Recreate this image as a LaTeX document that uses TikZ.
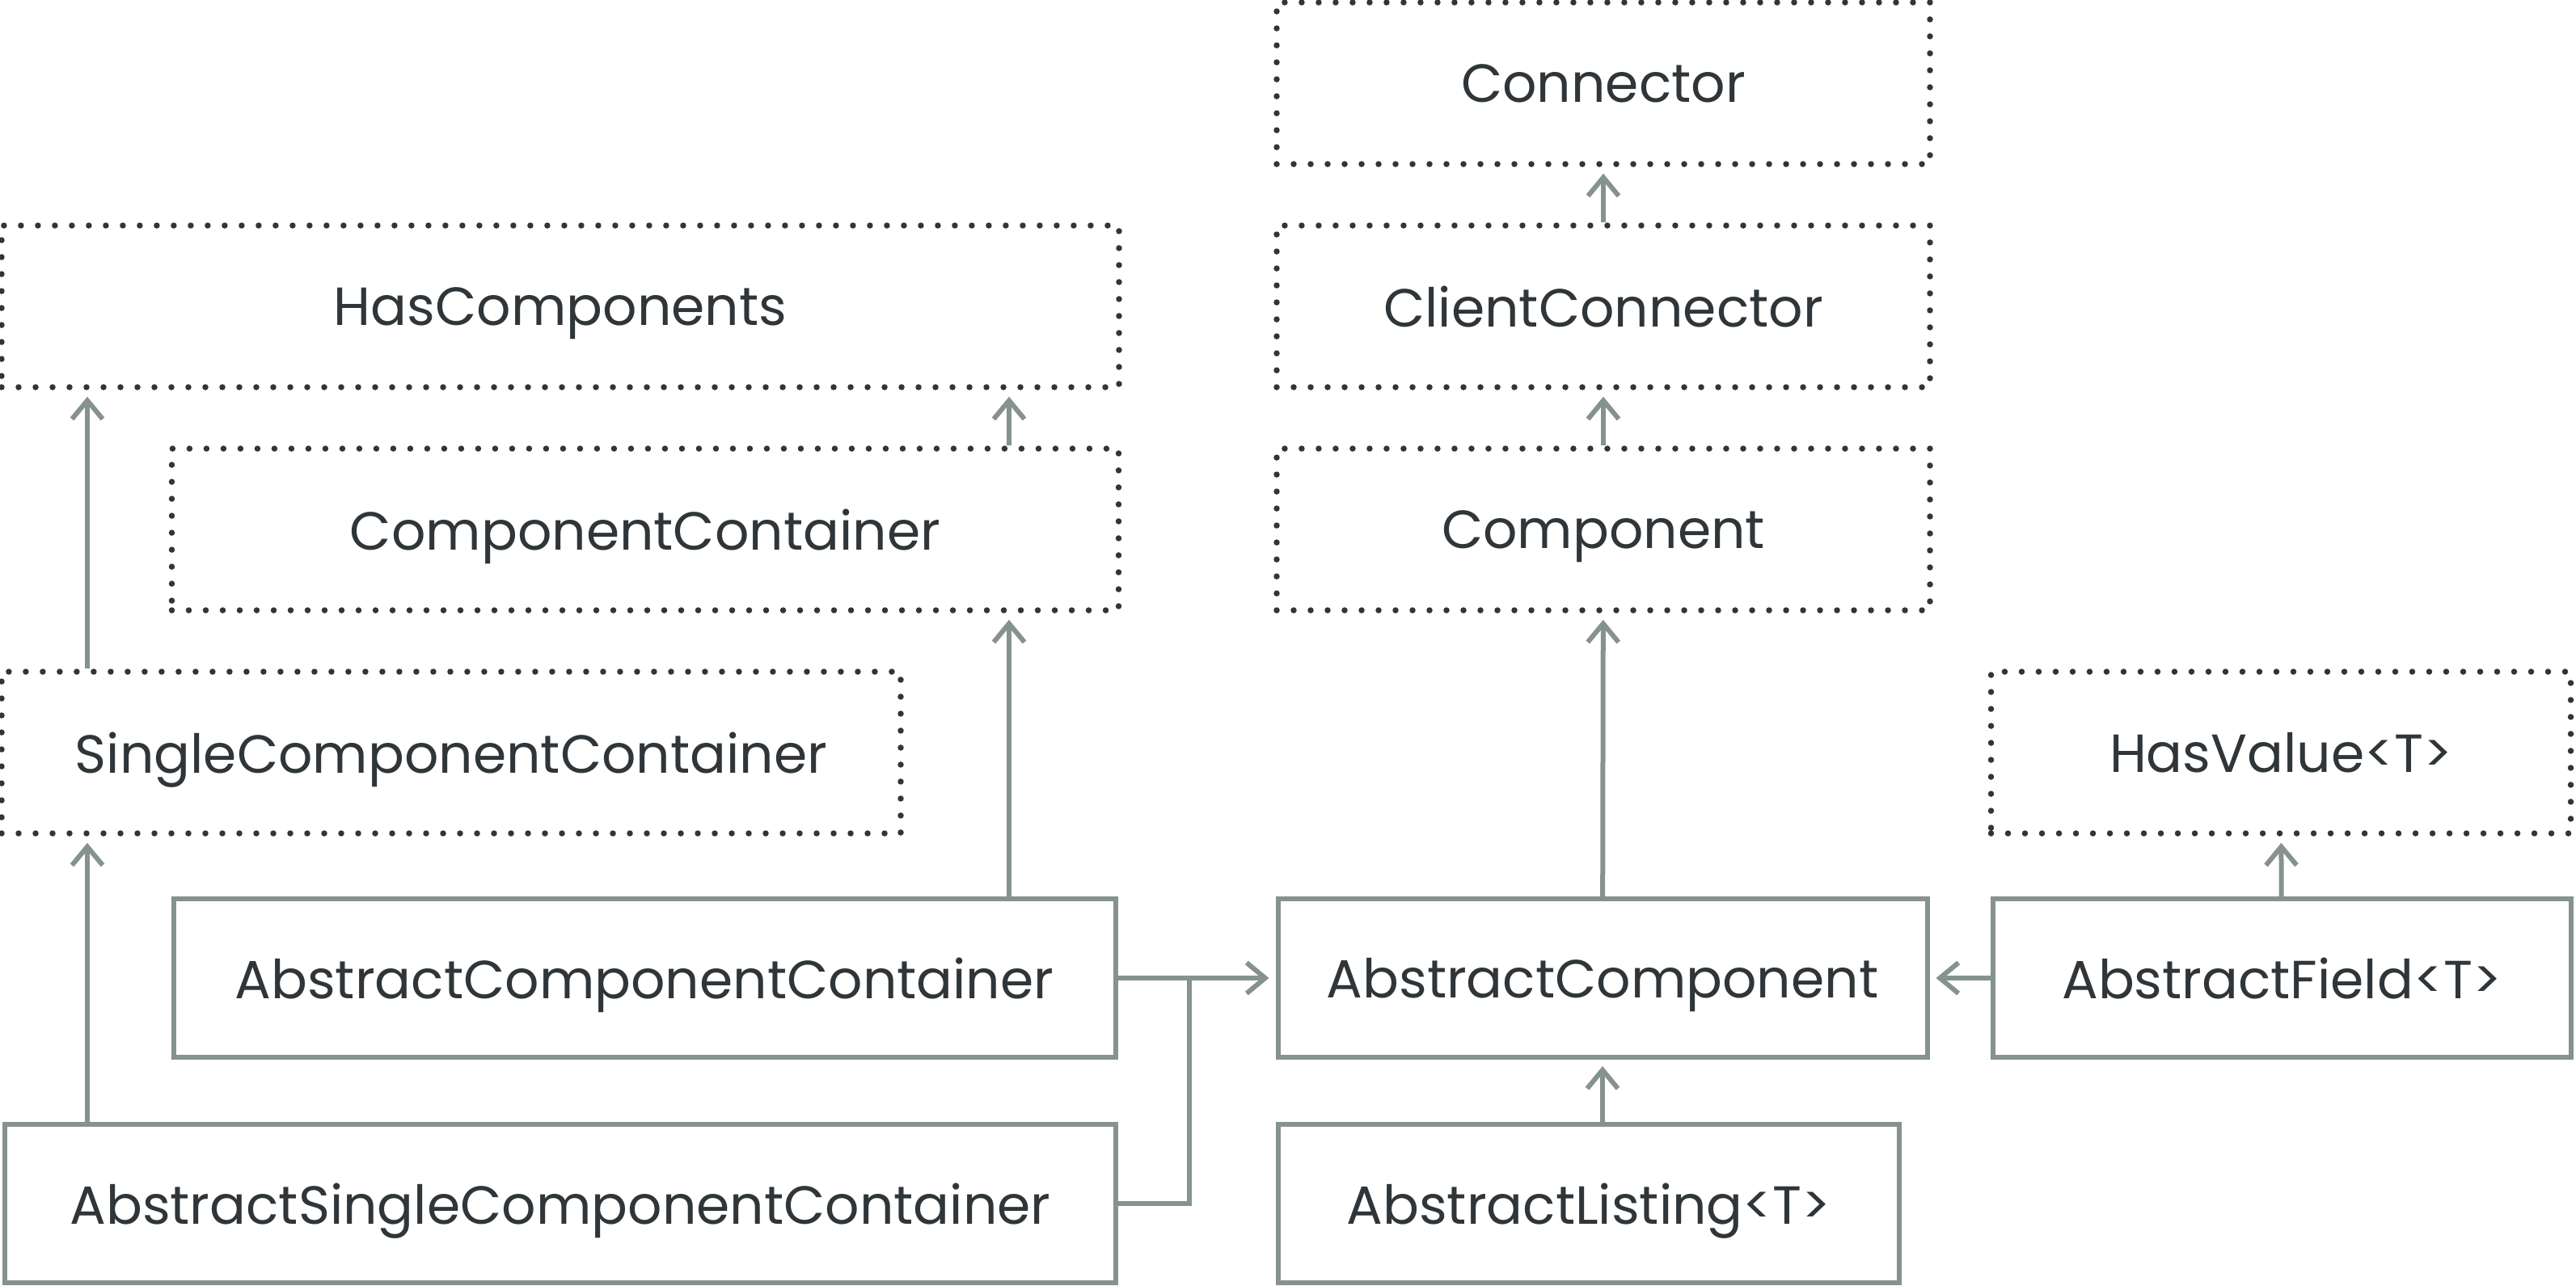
\documentclass[tikz,border=0pt]{standalone}
\usepackage{fontspec}
\setmainfont{Poppins}
\usetikzlibrary{arrows.meta,positioning,calc}
\usepackage{xcolor}
\definecolor{ink}{HTML}{2F3538}
\definecolor{steel}{HTML}{859290}
\tikzset{
  base/.style={font=\fontsize{18.9}{23}\selectfont,text=ink,align=center,inner sep=0pt,text depth=0pt},
  iface/.style={base,draw=ink,line width=0.075cm,dash pattern=on 0pt off 0.21cm,line cap=round,minimum height=2cm},
  cls/.style={base,draw=steel,line width=0.06cm,minimum height=1.96cm},
  flow/.style={-{Straight Barb[length=2.3mm,width=3.8mm]},line width=0.06cm,draw=steel,shorten >=0.08cm},
  link/.style={line width=0.06cm,draw=steel}
}

\begin{document}
\begin{tikzpicture}
\useasboundingbox (0,0) rectangle (31.86,-15.90);

% interfaces
\node[iface,minimum width=8.08cm] (conn) at (19.83,-1.03) {Connector};
\node[iface,minimum width=8.08cm] (client) at (19.83,-3.79) {ClientConnector};
\node[iface,minimum width=8.08cm] (comp) at (19.83,-6.55) {Component};
\node[iface,minimum width=13.82cm] (hascomp) at (6.93,-3.79) {HasComponents};
\node[iface,minimum width=11.71cm] (compcont) at (7.98,-6.55) {ComponentContainer};
\node[iface,minimum width=11.12cm] (singlecont) at (5.58,-9.31) {SingleComponentContainer};
\node[iface,minimum width=7.17cm] (hasvalue) at (28.21,-9.31) {HasValue<T>};

% classes
\node[cls,minimum width=11.65cm] (abscompcont) at (7.97,-12.10) {AbstractComponentContainer};
\node[cls,minimum width=8.03cm] (abscomp) at (19.82,-12.10) {AbstractComponent};
\node[cls,minimum width=7.15cm] (absfield) at (28.22,-12.10) {AbstractField<T>};
\node[cls,minimum width=13.74cm] (abssingle) at (6.93,-14.89) {AbstractSingleComponentContainer};
\node[cls,minimum width=7.68cm] (abslisting) at (19.65,-14.89) {AbstractListing<T>};

\coordinate (lx) at (1.08,0);
\coordinate (rx) at (12.48,0);
\coordinate (join) at (14.71,-12.10);

\draw[flow] (client) -- (conn);
\draw[flow] (comp) -- (client);
\draw[flow] (abscomp) -- (comp);
\draw[flow] (abslisting.north -| abscomp) -- (abscomp.south);
\draw[flow] (absfield) -- (hasvalue);
\draw[flow] (absfield) -- (abscomp);
\draw[flow] (abscompcont) -- (abscomp);
\draw[link] (abssingle.east) -| (join);
\draw[flow] (lx |- singlecont.north) -- (lx |- hascomp.south);
\draw[flow] (lx |- abssingle.north) -- (lx |- singlecont.south);
\draw[flow] (rx |- compcont.north) -- (rx |- hascomp.south);
\draw[flow] (rx |- abscompcont.north) -- (rx |- compcont.south);
\end{tikzpicture}
\end{document}
